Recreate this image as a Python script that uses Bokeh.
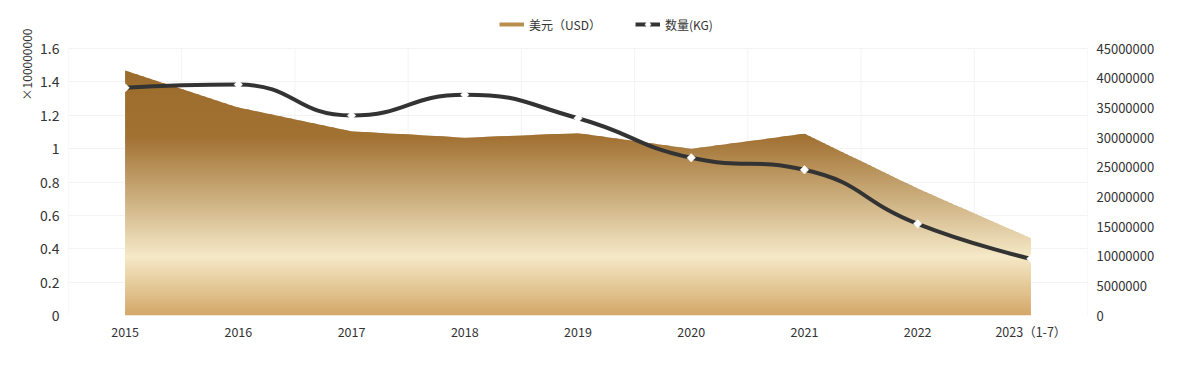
import math
import numpy as np
from bokeh.plotting import figure
from bokeh.models import (Range1d, LinearAxis, FixedTicker, CustomJSTickFormatter,
                          NumeralTickFormatter, Legend, LegendItem, Title)
from bokeh.embed import file_html
from bokeh.resources import INLINE

# ---------------- data ----------------
years = ["2015", "2016", "2017", "2018", "2019", "2020", "2021", "2022", "2023（1-7）"]
usd = [146800000, 124600000, 110400000, 106500000, 109200000, 99900000, 108900000, 76100000, 46300000]
kg = [38380000, 38930000, 33700000, 37200000, 33250000, 26580000, 24560000, 15450000, 9560000]
left_ticks = [0, 20000000, 40000000, 60000000, 80000000, 100000000, 120000000, 140000000, 160000000]
right_ticks = [0, 5000000, 10000000, 15000000, 20000000, 25000000, 30000000, 35000000, 40000000, 45000000]
usd_name = "美元（USD）"
kg_name = "数量(KG)"
unit_label = "×100000000"

FONT = "Noto Sans CJK SC"
TXT = "#333333"
GRID = "#f3f3f3"

# layout (pixels on the canvas)
W, H = 1162, 349
PX_TOP, PX_MAX, PX_ZERO = 8, 48, 315     # frame top, line of the top tick, line of zero
LEFT_MAX, RIGHT_MAX = left_ticks[-1], right_ticks[-1]
stretch = (PX_ZERO - PX_TOP) / (PX_ZERO - PX_MAX)

n = len(years)
xs_idx = list(range(n))

p = figure(width=W, height=H, output_backend="svg", toolbar_location=None,
           x_range=Range1d(-0.5, n - 0.5), y_range=Range1d(0, LEFT_MAX * stretch),
           min_border_left=68, min_border_right=75, min_border_top=PX_TOP,
           min_border_bottom=H - PX_ZERO)
p.outline_line_color = None
p.background_fill_color = "white"
p.border_fill_color = "white"

p.extra_y_ranges = {"kg": Range1d(0, RIGHT_MAX * stretch)}

# ---------- axes ----------
p.xaxis.ticker = FixedTicker(ticks=xs_idx)
p.xaxis.major_label_overrides = {i: y for i, y in enumerate(years)}
p.yaxis.ticker = FixedTicker(ticks=left_ticks)
p.yaxis.formatter = CustomJSTickFormatter(code="return String(Math.round(tick/1e6)/100);")

ax_r = LinearAxis(y_range_name="kg", ticker=FixedTicker(ticks=right_ticks),
                  formatter=NumeralTickFormatter(format="0"))
p.add_layout(ax_r, "right")

for ax in [p.xaxis[0], p.yaxis[0], ax_r]:
    ax.axis_line_color = None
    ax.major_tick_line_color = None
    ax.minor_tick_line_color = None
    ax.major_tick_out = 0
    ax.major_tick_in = 0
    ax.minor_tick_out = 0
    ax.major_label_text_font = FONT
    ax.major_label_text_color = TXT
    ax.major_label_text_font_size = "12.5px"
p.yaxis[0].major_label_text_font_size = "14px"
p.yaxis[0].major_label_standoff = 9
ax_r.major_label_standoff = 9
ax_r.major_label_text_font_size = "13px"
p.xaxis[0].major_label_standoff = 6

p.xgrid.visible = False
p.ygrid.ticker = FixedTicker(ticks=left_ticks)
p.ygrid.grid_line_color = GRID
bounds = [i - 0.5 for i in range(n + 1)]
p.segment(x0=bounds, y0=[0] * len(bounds), x1=bounds, y1=[LEFT_MAX] * len(bounds),
          line_color=GRID, line_width=1, level="underlay")

# ---------- gradient area (horizontal bands clipped to the area) ----------
top = max(usd)
stops = [(0.0, (157, 109, 45)), (0.27, (161, 113, 50)), (0.76, (245, 233, 199)), (1.0, (211, 167, 104))]


def grad(t):
    for (t0, c0), (t1, c1) in zip(stops[:-1], stops[1:]):
        if t <= t1:
            u = (t - t0) / (t1 - t0) if t1 > t0 else 0
            return "#%02x%02x%02x" % tuple(int(round(a + (b - a) * u)) for a, b in zip(c0, c1))
    return "#%02x%02x%02x" % stops[-1][1]


nb = 110
edges = np.linspace(0, top, nb + 1)
ovl = top / 245.0 * 1.0
band_xs, band_ys, band_cols = [], [], []
for k in range(nb):
    a = edges[k]
    c = edges[k + 1] + ovl
    pts = set(float(i) for i in xs_idx)
    for i in range(n - 1):
        y0, y1 = usd[i], usd[i + 1]
        for lev in (a, c):
            if (y0 - lev) * (y1 - lev) < 0:
                pts.add(i + (lev - y0) / (y1 - y0))
    xsr = sorted(pts)
    g = [min(max(float(np.interp(x, xs_idx, usd)), a), c) for x in xsr]
    band_xs.append(xsr + [float(n - 1), 0.0])
    band_ys.append(g + [a, a])
    mid = (edges[k] + edges[k + 1]) / 2
    band_cols.append(grad(1 - mid / top))

p.patches(xs=band_xs, ys=band_ys, fill_color=band_cols, line_color=None)

# ---------- smooth line (ECharts-like bezier smoothing, pixel space) ----------
sx = 113.2
sy = (PX_ZERO - PX_MAX) / RIGHT_MAX
P = [(i * sx, v * sy) for i, v in enumerate(kg)]
smooth = 0.5
seg = {k: [] for k in ["x0", "y0", "x1", "y1", "cx0", "cy0", "cx1", "cy1"]}
cp0 = P[0]
for idx in range(1, n):
    x, y = P[idx]
    px, py = P[idx - 1]
    if idx == n - 1:
        c1x, c1y = x, y
        ncx, ncy = x, y
    else:
        nx, ny = P[idx + 1]
        vx, vy = nx - px, ny - py
        lp = math.hypot(x - px, y - py)
        ln = math.hypot(nx - x, ny - y)
        r = ln / (ln + lp)
        ncx = x + vx * smooth * r
        ncy = y + vy * smooth * r
        ncx = max(min(ncx, max(nx, x)), min(nx, x))
        ncy = max(min(ncy, max(ny, y)), min(ny, y))
        vx, vy = ncx - x, ncy - y
        c1x = x - vx * lp / ln
        c1y = y - vy * lp / ln
        c1x = max(min(c1x, max(px, x)), min(px, x))
        c1y = max(min(c1y, max(py, y)), min(py, y))
        vx, vy = x - c1x, y - c1y
        ncx = x + vx * ln / lp
        ncy = y + vy * ln / lp
    seg["x0"].append(px / sx); seg["y0"].append(py / sy)
    seg["x1"].append(x / sx); seg["y1"].append(y / sy)
    seg["cx0"].append(cp0[0] / sx); seg["cy0"].append(cp0[1] / sy)
    seg["cx1"].append(c1x / sx); seg["cy1"].append(c1y / sy)
    cp0 = (ncx, ncy)

p.bezier(x0=seg["x0"], y0=seg["y0"], x1=seg["x1"], y1=seg["y1"],
         cx0=seg["cx0"], cy0=seg["cy0"], cx1=seg["cx1"], cy1=seg["cy1"],
         y_range_name="kg", line_color="#333333", line_width=4, line_cap="round")

p.scatter(x=xs_idx, y=kg, y_range_name="kg", marker="square", angle=math.pi / 4,
          size=6, fill_color="white", line_color="white", line_width=0.5)

# ---------- legend (inside the frame's top strip) ----------
nan = float("nan")
d_area = p.line(x=[nan], y=[nan], line_color="#B98F50", line_width=4)
d_line = p.line(x=[nan], y=[nan], line_color="#333333", line_width=4)
d_mark = p.scatter(x=[nan], y=[nan], marker="diamond", size=8, fill_color="white", line_color="white")
legend = Legend(items=[LegendItem(label=usd_name, renderers=[d_area]),
                       LegendItem(label=kg_name, renderers=[d_line, d_mark])],
                orientation="horizontal", location=(431, PX_ZERO - 34),
                glyph_width=25, glyph_height=20, label_height=20, label_standoff=5,
                spacing=34, padding=0, margin=0, border_line_color=None,
                background_fill_alpha=0, label_text_font=FONT,
                label_text_font_size="12px", label_text_color=TXT)
p.add_layout(legend)

# ---------- unit label (vertical, at the top left) ----------
p.add_layout(Title(text=unit_label, align="right", offset=20, standoff=6,
                   text_font=FONT, text_font_size="12px", text_font_style="normal",
                   text_color=TXT), "left")

open("out.html", "w").write(file_html(p, INLINE))
